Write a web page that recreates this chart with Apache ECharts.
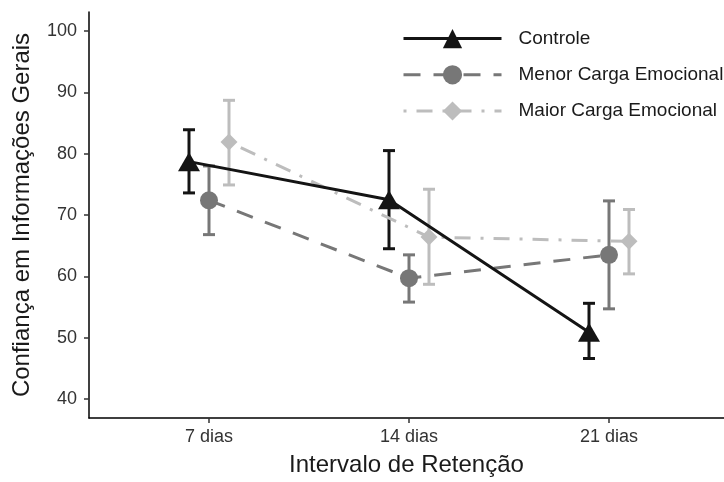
<!DOCTYPE html>
<html>
<head>
<meta charset="utf-8">
<script src="https://cdn.jsdelivr.net/npm/echarts@6/dist/echarts.min.js"></script>
<style>
html,body{margin:0;padding:0;background:#fff;}
#chart{width:724px;height:482px;}
</style>
</head>
<body>
<div id="chart"></div>
<script>
const categories = ['7 dias', '14 dias', '21 dias'];
const yTicks = [40, 50, 60, 70, 80, 90, 100];
const seriesNames = ['Controle', 'Menor Carga Emocional', 'Maior Carga Emocional'];

const controleMean  = [78.7, 72.5, 50.9];
const controleLow   = [73.6, 64.5, 46.6];
const controleHigh  = [83.9, 80.5, 55.6];

const menorMean  = [72.4, 59.7, 63.5];
const menorLow   = [66.8, 55.8, 54.7];
const menorHigh  = [78.0, 63.5, 72.3];

const maiorMean  = [81.9, 66.4, 65.7];
const maiorLow   = [74.9, 58.7, 60.4];
const maiorHigh  = [88.7, 74.2, 70.9];

const dodge = [-0.1, 0, 0.1];
const colors = ['#141414', '#777777', '#bdbdbd'];
const FONT = 'Liberation Sans, Arial, sans-serif';

const groups = [
  {name: seriesNames[0], mean: controleMean, low: controleLow, high: controleHigh, symbol: 'triangle', size: [22, 19], line: {type: 'solid'}},
  {name: seriesNames[1], mean: menorMean, low: menorLow, high: menorHigh, symbol: 'circle', size: 18, line: {type: [17, 13]}},
  {name: seriesNames[2], mean: maiorMean, low: maiorLow, high: maiorHigh, symbol: 'diamond', size: [17, 17], line: {type: [3, 10, 16, 10]}}
];

function xPos(i, g) { return i + 1 + dodge[g]; }

const series = [];
// error bars
groups.forEach((grp, g) => {
  series.push({
    type: 'custom',
    name: grp.name + ' eb',
    z: 1,
    silent: true,
    data: categories.map((c, i) => [xPos(i, g), grp.low[i], grp.high[i]]),
    renderItem: function (params, api) {
      const x = api.value(0);
      const lo = api.coord([x, api.value(1)]);
      const hi = api.coord([x, api.value(2)]);
      const hw = 6;
      const st = {stroke: colors[g], lineWidth: 3, fill: null};
      return {
        type: 'group',
        children: [
          {type: 'line', shape: {x1: lo[0], y1: lo[1], x2: hi[0], y2: hi[1]}, style: st},
          {type: 'line', shape: {x1: lo[0] - hw, y1: lo[1], x2: lo[0] + hw, y2: lo[1]}, style: st},
          {type: 'line', shape: {x1: hi[0] - hw, y1: hi[1], x2: hi[0] + hw, y2: hi[1]}, style: st}
        ]
      };
    }
  });
});
// lines (draw Controle last so it sits on top)
[2, 1, 0].forEach(g => {
  const grp = groups[g];
  series.push({
    type: 'line',
    name: grp.name,
    z: 3 + (2 - g),
    data: categories.map((c, i) => [xPos(i, g), grp.mean[i]]),
    symbol: grp.symbol,
    symbolSize: grp.size,
    showAllSymbol: true,
    itemStyle: {color: colors[g]},
    lineStyle: {color: colors[g], width: 3, type: grp.line.type},
    animation: false
  });
});

const chart = echarts.init(document.getElementById('chart'));
chart.setOption({
  animation: false,
  textStyle: {fontFamily: FONT},
  grid: {left: 89, right: 0, top: 12, bottom: 60, containLabel: false},
  legend: {
    data: seriesNames,
    orient: 'vertical',
    left: 397,
    top: 24,
    itemWidth: 98,
    itemHeight: 24,
    itemGap: 17,
    lineStyle: {width: 3},
    textStyle: {fontSize: 19, color: '#1a1a1a', fontFamily: FONT, padding: [0, 0, 0, 12]}
  },
  xAxis: {
    type: 'value',
    min: 0.4,
    max: 3.575,
    name: 'Intervalo de Retenção',
    nameLocation: 'middle',
    nameGap: 35,
    nameTextStyle: {fontSize: 24, color: '#1a1a1a', fontFamily: FONT},
    splitLine: {show: false},
    axisLine: {show: true, onZero: false, lineStyle: {color: '#000', width: 1.5}},
    axisTick: {show: true, length: 5, lineStyle: {color: '#333', width: 1.5}, customValues: [1, 2, 3]},
    axisLabel: {
      fontSize: 18, color: '#333', margin: 10, fontFamily: FONT,
      customValues: [1, 2, 3],
      formatter: v => categories[Math.round(v) - 1] || ''
    }
  },
  yAxis: {
    type: 'value',
    min: 36.9,
    max: 103.1,
    name: 'Confiança em Informações Gerais',
    nameLocation: 'middle',
    nameGap: 55,
    nameTextStyle: {fontSize: 24, color: '#1a1a1a', fontFamily: FONT},
    splitLine: {show: false},
    axisLine: {show: true, lineStyle: {color: '#000', width: 1.5}},
    axisTick: {show: true, length: 5, lineStyle: {color: '#333', width: 1.5}, customValues: yTicks},
    axisLabel: {fontSize: 18, color: '#333', margin: 12, fontFamily: FONT, customValues: yTicks}
  },
  series: series
});
</script>
</body>
</html>
